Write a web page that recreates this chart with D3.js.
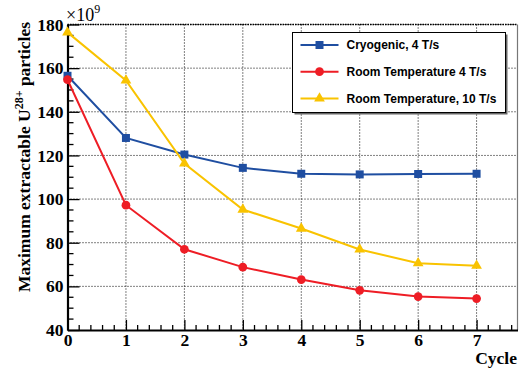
<!DOCTYPE html>
<html lang="en">
<head>
<meta charset="UTF-8">
<title>Maximum extractable U28+ particles</title>
<script src="https://d3js.org/d3.v7.min.js"></script>
<style>
  body { margin:0; background:#fff; }
  svg { display:block; }
</style>
</head>
<body>
<svg id="chart" width="520" height="371"></svg>
<script>
// data, in units of 1e9
var cycles = [0, 1, 2, 3, 4, 5, 6, 7];
var cryo4 = [156.5, 128, 120.4, 114.3, 111.6, 111.3, 111.5, 111.6];
var room4 = [154.7, 97.2, 77, 68.8, 63.1, 58.2, 55.3, 54.4];
var room10 = [176.4, 154.4, 116.3, 95.2, 86.5, 76.9, 70.6, 69.5];
var seriesNames = ["Cryogenic, 4 T/s", "Room Temperature 4 T/s", "Room Temperature, 10 T/s"];
var yTicks = [40, 60, 80, 100, 120, 140, 160, 180];

var svg = d3.select("#chart");
var margin = {left: 67.5, top: 24.5, right: 2.5, bottom: 41};
var width = 520 - margin.left - margin.right,
    height = 371 - margin.top - margin.bottom;
var serif = "'Liberation Serif', 'Times New Roman', serif";

var x = d3.scaleLinear().domain([0, 7.7]).range([0, width]);
var y = d3.scaleLinear().domain([40, 180]).range([height, 0]);

var g = svg.append("g").attr("transform", "translate(" + margin.left + "," + margin.top + ")");

// dotted grid
g.append("g").selectAll("line")
  .data(cycles.slice(1))
  .enter().append("line")
    .attr("x1", d => x(d)).attr("x2", d => x(d))
    .attr("y1", 0).attr("y2", height)
    .attr("stroke", "#000").attr("stroke-width", 1).attr("stroke-dasharray", "1,2");
g.append("g").selectAll("line")
  .data(yTicks.slice(1))
  .enter().append("line")
    .attr("x1", 0).attr("x2", width)
    .attr("y1", d => y(d)).attr("y2", d => y(d))
    .attr("stroke", "#000").attr("stroke-width", 1).attr("stroke-dasharray", "1,2");

// frame (right side grey)
g.append("line").attr("x1", width).attr("x2", width).attr("y1", 0).attr("y2", height)
  .attr("stroke", "#777").attr("stroke-width", 1.2);

// minor ticks
var minorX = d3.range(0, 7.71, 0.2).filter(d => Math.abs(d - Math.round(d)) > 0.01);
g.append("g").selectAll("line").data(minorX).enter().append("line")
  .attr("x1", d => x(d)).attr("x2", d => x(d))
  .attr("y1", height).attr("y2", height - 5)
  .attr("stroke", "#000").attr("stroke-width", 1.3);
var minorY = d3.range(40, 180, 5).filter(d => d % 20 != 0);
g.append("g").selectAll("line").data(minorY).enter().append("line")
  .attr("x1", 0).attr("x2", 6)
  .attr("y1", d => y(d)).attr("y2", d => y(d))
  .attr("stroke", "#000").attr("stroke-width", 1.3);

// axes
var xAxis = g.append("g").attr("transform", "translate(0," + height + ")")
  .call(d3.axisBottom(x).tickValues(cycles).tickFormat(d3.format("d")).tickSizeInner(-10).tickSizeOuter(0).tickPadding(10));
var yAxis = g.append("g")
  .call(d3.axisLeft(y).tickValues(yTicks).tickFormat(d3.format("d")).tickSizeInner(-12).tickSizeOuter(0).tickPadding(4));
[xAxis, yAxis].forEach(function(a) {
  a.select(".domain").attr("stroke", "#000").attr("stroke-width", 2.2);
  a.selectAll(".tick line").attr("stroke", "#000").attr("stroke-width", 1.3);
  a.selectAll(".tick text")
    .style("font-family", serif).style("font-weight", "bold").style("font-size", "17.5px").attr("fill", "#000");
});
xAxis.selectAll(".tick text").attr("dy", "0.35em");
// top border
g.append("line").attr("x1", 0).attr("x2", width).attr("y1", 0).attr("y2", 0)
  .attr("stroke", "#000").attr("stroke-width", 1.5).attr("stroke-dasharray", "1.5,1");

// series
var series = [
  {name: seriesNames[0], values: cryo4, color: "#1f4ea1", shape: d3.symbolSquare, size: 64},
  {name: seriesNames[1], values: room4, color: "#ee1d25", shape: d3.symbolCircle, size: 60},
  {name: seriesNames[2], values: room10, color: "#f9c300", shape: d3.symbolTriangle, size: 50}
];
var line = d3.line().x((d, i) => x(cycles[i])).y(d => y(d));

series.forEach(function(s) {
  g.append("path").datum(s.values)
    .attr("d", line).attr("fill", "none")
    .attr("stroke", s.color).attr("stroke-width", 2);
  g.append("g").selectAll("path").data(s.values).enter().append("path")
    .attr("d", d3.symbol().type(s.shape).size(s.size))
    .attr("transform", (d, i) => "translate(" + x(cycles[i]) + "," + y(d) + ")")
    .attr("fill", s.color);
});

// legend
var leg = svg.append("g").attr("transform", "translate(292.5,32.5)");
leg.append("rect").attr("x", 2).attr("y", 2).attr("width", 213).attr("height", 80).attr("fill", "#666");
leg.append("rect").attr("width", 213).attr("height", 80).attr("fill", "#fff").attr("stroke", "#000").attr("stroke-width", 1);
series.forEach(function(s, i) {
  var ly = 12.5 + i * 26.7;
  leg.append("line").attr("x1", 8).attr("x2", 46).attr("y1", ly).attr("y2", ly)
    .attr("stroke", s.color).attr("stroke-width", 2);
  leg.append("path").attr("d", d3.symbol().type(s.shape).size(s.size))
    .attr("transform", "translate(27," + ly + ")").attr("fill", s.color);
  leg.append("text").attr("x", 54).attr("y", ly).attr("dy", "0.35em")
    .style("font-family", "'Liberation Sans', Arial, sans-serif").style("font-weight", "bold").style("font-size", "12px")
    .text(s.name);
});

// titles
var yt = svg.append("text")
  .attr("transform", "translate(30,157) rotate(-90)")
  .attr("text-anchor", "middle")
  .style("font-family", serif).style("font-weight", "bold").style("font-size", "17.5px");
yt.append("tspan").text("Maximum extractable U");
yt.append("tspan").attr("dy", "-7").style("font-size", "12px").text("28+");
yt.append("tspan").attr("dy", "7").text(" particles");

svg.append("text").attr("x", 517).attr("y", 364).attr("text-anchor", "end")
  .style("font-family", serif).style("font-weight", "bold").style("font-size", "17.5px").text("Cycle");

var mult = svg.append("text").attr("x", 66).attr("y", 21)
  .style("font-family", serif).style("font-size", "18px");
mult.append("tspan").text("\u00d710");
mult.append("tspan").attr("dy", "-8").style("font-size", "12px").text("9");
</script>
</body>
</html>
